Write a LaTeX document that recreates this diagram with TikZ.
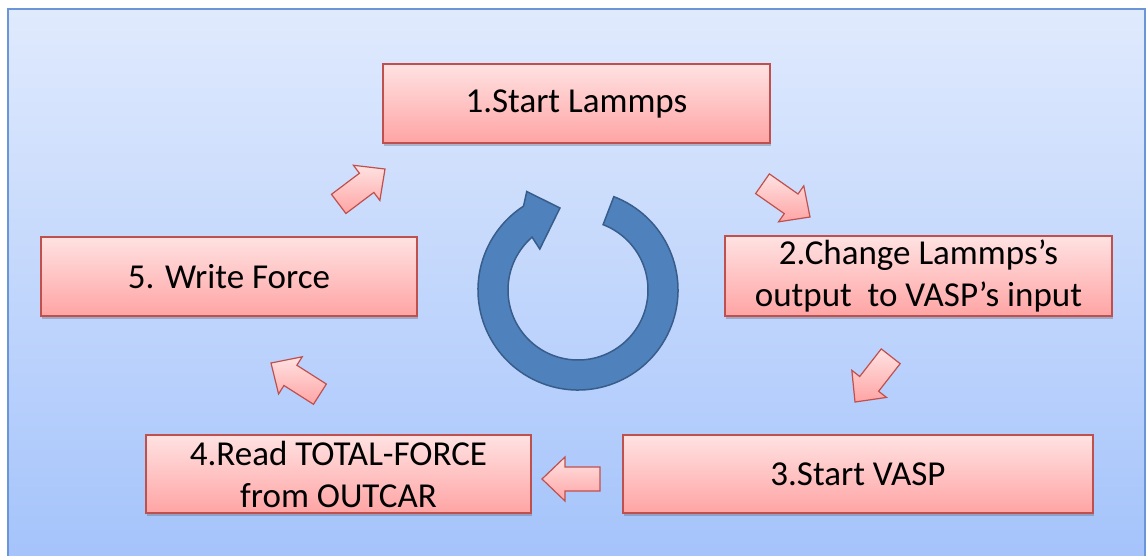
\documentclass[tikz,border=0pt]{standalone}
\usepackage{fontspec}
\setmainfont{Carlito}
\usetikzlibrary{shadows}
\definecolor{bgtop}{RGB}{224,234,253}
\definecolor{bgbot}{RGB}{164,195,251}
\definecolor{bgline}{RGB}{106,150,216}
\definecolor{boxtop}{RGB}{255,226,226}
\definecolor{boxbot}{RGB}{255,164,164}
\definecolor{boxline}{RGB}{192,80,77}
\definecolor{ringfill}{RGB}{79,129,189}
\definecolor{ringline}{RGB}{56,93,138}
\begin{document}
\begin{tikzpicture}[x=1pt,y=1pt,
  stepbox/.style={draw=boxline, line width=1.5pt, top color=boxtop, bottom color=boxbot,
    align=center, inner sep=0pt, text=black,
    font=\fontsize{35}{42}\selectfont,
    drop shadow={shadow xshift=1pt, shadow yshift=-2.5pt, opacity=0.3, fill=black!70}},
  barrow/.style={draw=boxline, line width=1.2pt, top color=boxtop, bottom color=boxbot},
  ring/.style={draw=ringline, line width=1.5pt, fill=ringfill}]
\useasboundingbox (0,0) rectangle (1146,-555);
\shade[top color=bgtop, bottom color=bgbot, draw=bgline, line width=2pt] (8,-9) rectangle (1145,-565);

% boxes
\node[stepbox, minimum width=387pt, minimum height=79pt] (s1) at (576.5,-103.5) {1.Start Lammps};
\node[stepbox, minimum width=387pt, minimum height=80pt] (s2) at (918.5,-276) {2.Change Lammps’s\\output\ \ to VASP’s input};
\node[stepbox, minimum width=470pt, minimum height=78pt] (s3) at (858,-474) {3.Start VASP};
\node[stepbox, minimum width=385pt, minimum height=78pt] (s4) at (338.5,-474) {4.Read TOTAL-FORCE\\from OUTCAR};
\node[stepbox, minimum width=376pt, minimum height=79pt] (s5) at (229,-276.5) {5. Write Force};

% block arrows (tip at origin, pointing +x)
\foreach \tx/\ty/\ang in {385/169/37, 810/217/-35, 855/402/-128, 542/479/180, 271/363/147.5}{
  \path[barrow, shift={(\tx,-\ty)}, rotate=\ang]
    (0,0) -- (-23,22) -- (-23,12) -- (-58,12) -- (-58,-12) -- (-23,-12) -- (-23,-22) -- cycle;
}

% circular arrow
\begin{scope}[shift={(578,-290)}]
\path[ring] (69:100) arc[start angle=69, end angle=-237, radius=100]
  -- (117.5:111) -- (102.4:84) -- (133:56) -- (131:70)
  arc[start angle=-229, end angle=69, radius=70] -- cycle;
\end{scope}
\end{tikzpicture}
\end{document}
